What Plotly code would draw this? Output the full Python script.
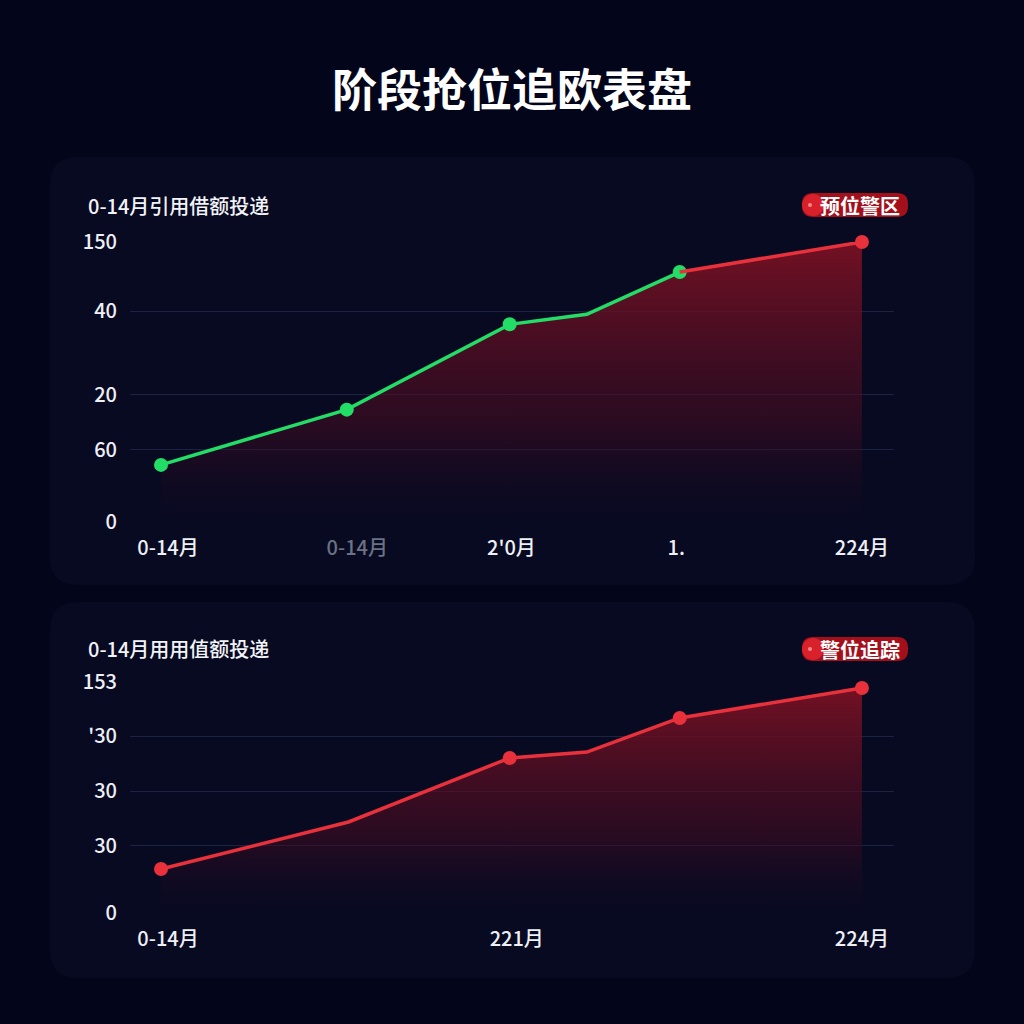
import plotly.graph_objects as go

# ---- data ----
title_text = "阶段抢位追欧表盘"

top_label = "0-14月引用借额投递"
top_badge = "预位警区"
top_x = [0, 1.06, 1.99, 2.43, 2.96, 4.0]
top_y = [30.6, 60.2, 105.9, 111.3, 133.9, 150.0]
top_yticks = [0, 38.7, 68.3, 112.9, 150]
top_ytext = ["0", "60", "20", "40", "150"]
top_xticks = [0.04, 1.12, 2.0, 2.94, 4.0]
top_xtext = ["0-14月", "<span style='color:#6b7284'>0-14月</span>", "2'0月", "1.", "224月"]

bot_label = "0-14月用用值额投递"
bot_badge = "警位追踪"
bot_x = [0, 1.07, 1.99, 2.43, 2.96, 4.0]
bot_y = [29.1, 60.3, 102.7, 106.6, 129.2, 149.0]
bot_yticks = [0, 44.4, 80.8, 117.2, 153]
bot_ytext = ["0", "30", "30", "'30", "153"]
bot_xticks = [0.04, 2.03, 4.0]
bot_xtext = ["0-14月", "221月", "224月"]

BG = "#03051a"
PANEL = "#080a22"
GREEN = "#22dd66"
RED = "#e8313b"
FONT = "Noto Sans CJK SC"
W = H = 1024


def px(x):
    return x / W


def py(y):
    return 1 - y / H


def rounded(x0, y0, x1, y1, r):
    # rounded rect path in paper coords from pixel coords
    X0, X1 = px(x0), px(x1)
    Y0, Y1 = py(y0), py(y1)
    rx, ry = r / W, r / H
    return (f"M {X0+rx},{Y0} L {X1-rx},{Y0} Q {X1},{Y0} {X1},{Y0-ry} "
            f"L {X1},{Y1+ry} Q {X1},{Y1} {X1-rx},{Y1} L {X0+rx},{Y1} "
            f"Q {X0},{Y1} {X0},{Y1+ry} L {X0},{Y0-ry} Q {X0},{Y0} {X0+rx},{Y0} Z")


fill_grad = dict(type="vertical",
                 colorscale=[[0, "rgba(30,8,30,0)"], [0.35, "rgba(70,12,32,0.55)"],
                             [1, "rgba(125,17,35,0.92)"]])
no_edge = dict(width=0)

fig = go.Figure()

# top panel
fig.add_trace(go.Scatter(x=top_x, y=top_y, mode="none", fill="tozeroy",
                         fillgradient=fill_grad, xaxis="x", yaxis="y",
                         hoverinfo="skip", showlegend=False))
fig.add_trace(go.Scatter(x=top_x[:5], y=top_y[:5], mode="lines+markers",
                         line=dict(color=GREEN, width=3.5),
                         marker=dict(color=GREEN, size=[14, 14, 14, 0, 14], line=no_edge, opacity=1),
                         xaxis="x", yaxis="y", cliponaxis=False, showlegend=False))
fig.add_trace(go.Scatter(x=top_x[4:], y=top_y[4:], mode="lines+markers",
                         line=dict(color=RED, width=3.5),
                         marker=dict(color=RED, size=[0, 14], line=no_edge, opacity=1),
                         xaxis="x", yaxis="y", cliponaxis=False, showlegend=False))

# bottom panel
fig.add_trace(go.Scatter(x=bot_x, y=bot_y, mode="none", fill="tozeroy",
                         fillgradient=fill_grad, xaxis="x2", yaxis="y2",
                         hoverinfo="skip", showlegend=False))
fig.add_trace(go.Scatter(x=bot_x, y=bot_y, mode="lines+markers",
                         line=dict(color=RED, width=3.5),
                         marker=dict(color=RED, size=[14, 0, 14, 0, 14, 14], line=no_edge, opacity=1),
                         xaxis="x2", yaxis="y2", cliponaxis=False, showlegend=False))

xrange = [-0.177, 4.183]
xdom = [px(130), px(894)]
axis_font = dict(family=FONT, size=20, color="#eef0f6", weight=500)
grid = "rgba(70,80,125,0.35)"

common_x = dict(range=xrange, domain=xdom, showgrid=False, zeroline=False,
                showline=False, ticks="", tickmode="array", tickfont=axis_font,
                ticklabelstandoff=12, fixedrange=True, automargin=False)
common_y = dict(showgrid=True, gridcolor=grid, gridwidth=1, zeroline=False,
                showline=False, ticks="", tickmode="array", tickfont=axis_font,
                ticklabelstandoff=12, fixedrange=True, automargin=False)

shapes = [
    dict(type="path", xref="paper", yref="paper", path=rounded(50, 157, 975, 585, 28),
         fillcolor=PANEL, line=dict(width=0), layer="below"),
    dict(type="path", xref="paper", yref="paper", path=rounded(50, 602, 975, 978, 28),
         fillcolor=PANEL, line=dict(width=0), layer="below"),
]

annotations = [
    dict(text=f"<b>{title_text}</b>", x=0.5, y=py(87), xref="paper", yref="paper",
         showarrow=False, font=dict(family=FONT, size=45, color="#ffffff"),
         xanchor="center", yanchor="middle"),
    dict(text=top_label, x=px(86), y=py(205), xref="paper", yref="paper",
         showarrow=False, font=dict(family=FONT, size=20, color="#f2f3f7", weight=500),
         xanchor="left", yanchor="middle"),
    dict(text=bot_label, x=px(86), y=py(648), xref="paper", yref="paper",
         showarrow=False, font=dict(family=FONT, size=20, color="#f2f3f7", weight=500),
         xanchor="left", yanchor="middle"),
]

for text, cy in [(top_badge, 205), (bot_badge, 649)]:
    shapes.append(dict(type="path", xref="paper", yref="paper",
                       path=rounded(802, cy - 12, 908, cy + 12, 11),
                       fillcolor="#a3101c", line=dict(width=0)))
    shapes.append(dict(type="circle", xref="paper", yref="paper",
                       x0=px(802), x1=px(824), y0=py(cy + 11), y1=py(cy - 11),
                       fillcolor="#d9212b", line=dict(width=0)))
    shapes.append(dict(type="circle", xref="paper", yref="paper",
                       x0=px(808), x1=px(812), y0=py(cy + 2), y1=py(cy - 2),
                       fillcolor="#ff8a8a", line=dict(width=0)))
    annotations.append(dict(text=f"<b>{text}</b>", x=px(818), y=py(cy), xref="paper",
                            yref="paper", showarrow=False,
                            font=dict(family=FONT, size=20, color="#ffffff"),
                            xanchor="left", yanchor="middle"))

fig.update_layout(
    width=W, height=H, margin=dict(l=0, r=0, t=0, b=0, pad=0, autoexpand=False),
    paper_bgcolor=BG, plot_bgcolor="rgba(0,0,0,0)",
    showlegend=False,
    xaxis=dict(common_x, anchor="y", tickvals=top_xticks, ticktext=top_xtext),
    yaxis=dict(common_y, anchor="x", domain=[py(522), py(242)], range=[0, 150],
               tickvals=top_yticks, ticktext=top_ytext),
    xaxis2=dict(common_x, anchor="y2", tickvals=bot_xticks, ticktext=bot_xtext),
    yaxis2=dict(common_y, anchor="x2", domain=[py(913), py(682)], range=[0, 153],
                tickvals=bot_yticks, ticktext=bot_ytext),
    shapes=shapes,
    annotations=annotations,
)

# pin the figure to the window corner so the page is exactly 1024x1024
page_js = ("var d=document.getElementById('{plot_id}');"
           "d.style.position='fixed';d.style.left='0';d.style.top='0';"
           "document.body.style.margin='0';document.body.style.overflow='hidden';"
           "document.body.style.background='" + BG + "';"
           "document.documentElement.style.background='" + BG + "';")
fig.write_html("out.html", config={"displayModeBar": False}, post_script=page_js)
